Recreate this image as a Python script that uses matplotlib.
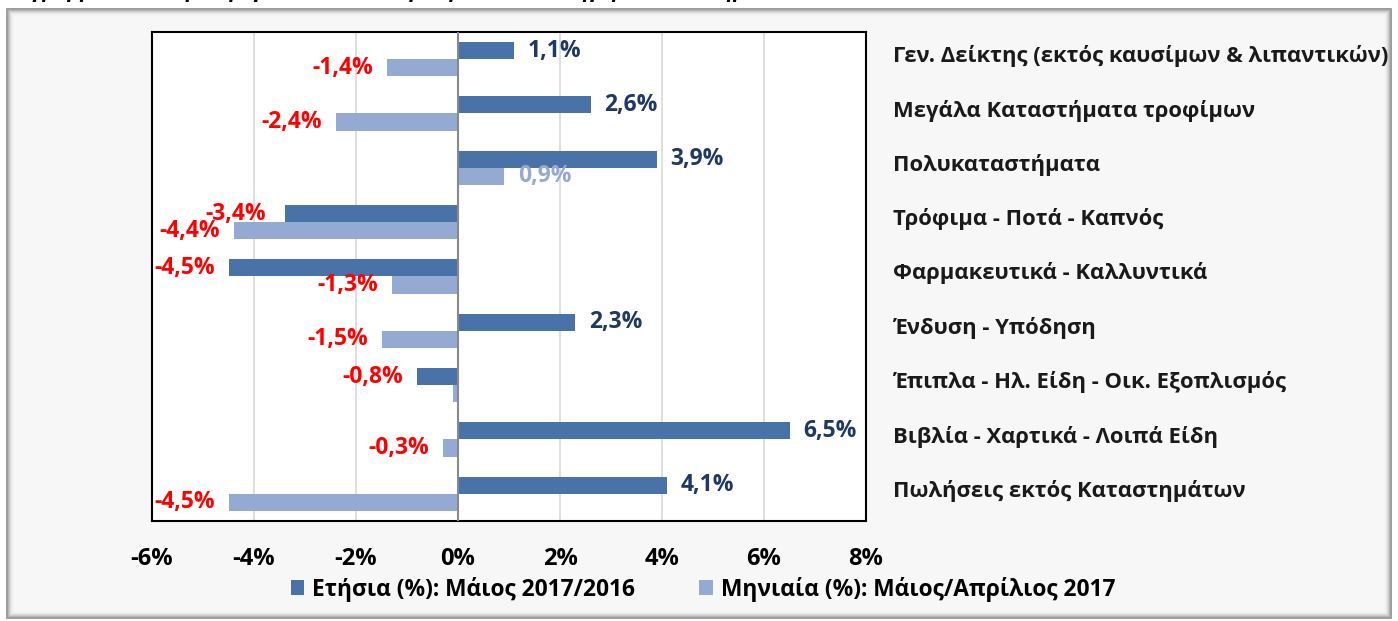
import matplotlib
matplotlib.use("Agg")
import matplotlib.pyplot as plt
from matplotlib.patches import Rectangle, Patch
import numpy as np

plt.rcParams['font.family'] = ['Open Sans', 'DejaVu Sans']
plt.rcParams['font.weight'] = 'bold'

categories = [
    "Γεν. Δείκτης (εκτός καυσίμων & λιπαντικών)",
    "Μεγάλα Καταστήματα τροφίμων",
    "Πολυκαταστήματα",
    "Τρόφιμα - Ποτά - Καπνός",
    "Φαρμακευτικά - Καλλυντικά",
    "Ένδυση - Υπόδηση",
    "Έπιπλα - Ηλ. Είδη - Οικ. Εξοπλισμός",
    "Βιβλία - Χαρτικά - Λοιπά Είδη",
    "Πωλήσεις εκτός Καταστημάτων",
]
annual = [1.1, 2.6, 3.9, -3.4, -4.5, 2.3, -0.8, 6.5, 4.1]
monthly = [-1.4, -2.4, 0.9, -4.4, -1.3, -1.5, -0.1, -0.3, -4.5]
monthly_labeled = [True, True, True, True, True, True, False, True, True]
series_names = ["Ετήσια (%): Μάιος 2017/2016", "Μηνιαία (%): Μάιος/Απρίλιος 2017"]
xticks = [-6, -4, -2, 0, 2, 4, 6, 8]

C_ANN = '#4872A8'
C_MON = '#95AAD2'
C_NAVY = '#1F3864'
C_RED = '#FF0000'

W, H = 1398, 621
fig = plt.figure(figsize=(W / 100, H / 100), dpi=100)
fig.patch.set_facecolor('white')

# outer frame with shadow-like gradient
x0, y0, x1, y1 = 7, 9, 1391, 618
shades = ['#8A8A8A', '#A0A0A0', '#B8B8B8', '#CDCDCD', '#DEDEDE', '#EAEAEA', '#F2F2F2']
for k, c in enumerate(shades):
    fig.patches.append(Rectangle(((x0 + k) / W, 1 - (y1 - k) / H),
                                 (x1 - x0 - 2 * k) / W, (y1 - y0 - 2 * k) / H,
                                 transform=fig.transFigure, facecolor='none',
                                 edgecolor=c, linewidth=1.2, zorder=0))
fig.patches.append(Rectangle(((x0 + 7) / W, 1 - (y1 - 7) / H),
                             (x1 - x0 - 14) / W, (y1 - y0 - 14) / H,
                             transform=fig.transFigure, facecolor='#F7F7F7',
                             edgecolor='none', zorder=-1))

# cut-off title at the very top (only the lower part of the glyphs is visible)
fig.text(0.0, 1 + 3 / H, "Διάγραμμα 2: Μεταβολή όγκου λιανικού εμπορίου ανά κατηγορία καταστημάτων",
         fontsize=15, fontstyle='italic', fontweight='bold', color='black',
         va='baseline', ha='left')

L, R, T, B = 152, 866, 32, 521
ax = fig.add_axes([L / W, 1 - B / H, (R - L) / W, (B - T) / H])
ax.set_facecolor('white')

n = len(categories)
y = np.arange(n)
h = 0.315
ax.barh(y - h / 2, annual, height=h, color=C_ANN, zorder=3)
ax.barh(y + h / 2, monthly, height=h, color=C_MON, zorder=3)

ax.set_xlim(-6, 8)
ax.set_ylim(n - 0.5, -0.5)
ax.set_xticks(xticks)
ax.set_xticklabels([f"{t}%" for t in xticks], fontsize=17, fontweight='bold')
ax.tick_params(axis='x', length=0, pad=19)
ax.set_yticks([])
ax.grid(axis='x', color='#D9D9D9', linewidth=1.2, zorder=0)
ax.axvline(0, color='#898989', linewidth=1.5, zorder=4)
for s in ax.spines.values():
    s.set_color('black')
    s.set_linewidth(1.5)

off = 0.27
LFS = 16.5

def fmt(v):
    return f"{v:.1f}%".replace('.', ',')

for i, v in enumerate(annual):
    if v >= 0:
        ax.text(v + off, i - h / 2, fmt(v), color=C_NAVY, fontsize=LFS, fontweight='bold',
                ha='left', va='center', zorder=5)
    else:
        ax.text(v - off - (0.1 if i == 3 else 0), i - h / 2, fmt(v), color=C_RED, fontsize=LFS,
                fontweight='bold', ha='right', va='center', zorder=5, clip_on=False)
for i, v in enumerate(monthly):
    if not monthly_labeled[i]:
        continue
    if v >= 0:
        ax.text(v + off, i + h / 2, fmt(v), color=C_MON, fontsize=LFS, fontweight='bold',
                ha='left', va='center', zorder=5)
    else:
        ax.text(v - off, i + h / 2, fmt(v), color=C_RED, fontsize=LFS, fontweight='bold',
                ha='right', va='center', zorder=5, clip_on=False)

# category labels on the right
for i, c in enumerate(categories):
    ypix = 1 - (T + (i + 0.5) * (B - T) / n - 3) / H
    fig.text(893 / W, ypix, c, fontsize=15.8, fontweight='bold', color='#1A1A1A',
             ha='left', va='center')

handles = [Patch(facecolor=C_ANN), Patch(facecolor=C_MON)]
fig.legend(handles, series_names, loc='center', bbox_to_anchor=(703 / W, 1 - 589 / H),
           ncol=2, frameon=False, handlelength=0.6, handleheight=0.6,
           handletextpad=0.35, columnspacing=2.8, prop={'weight': 'bold', 'size': 16.4})

fig.savefig('out.png', dpi=100)
